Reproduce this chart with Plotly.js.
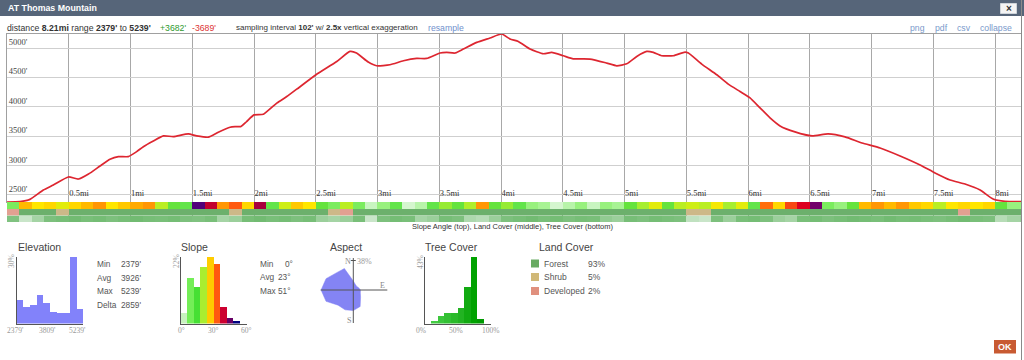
<!DOCTYPE html>
<html><head><meta charset="utf-8">
<script src="https://cdn.plot.ly/plotly-3.0.1.min.js"></script>
<style>html,body{margin:0;padding:0;background:#fff;overflow:hidden}#chart{width:1024px;height:360px}</style>
</head><body><div id="chart"></div>
<script>
// ---------- data ----------
const profileDist = [0, 0.105, 0.186, 0.294, 0.375, 0.497, 0.578, 0.66, 0.753, 0.834, 0.902, 0.982, 1.05, 1.104, 1.185, 1.266, 1.347, 1.468, 1.536, 1.63, 1.711, 1.806, 1.846, 1.892, 1.94, 2.0, 2.076, 2.184, 2.265, 2.346, 2.502, 2.67, 2.777, 2.83, 2.925, 2.993, 3.1, 3.21, 3.317, 3.398, 3.506, 3.56, 3.627, 3.695, 3.803, 3.911, 4.005, 4.073, 4.14, 4.235, 4.343, 4.41, 4.504, 4.585, 4.72, 4.856, 4.937, 5.018, 5.099, 5.18, 5.233, 5.3, 5.395, 5.49, 5.517, 5.625, 5.747, 5.84, 5.935, 6.016, 6.097, 6.178, 6.259, 6.38, 6.518, 6.648, 6.785, 6.923, 7.069, 7.231, 7.393, 7.514, 7.636, 7.757, 7.879, 7.984, 8.08, 8.21];
const profileElev = [2379, 2385, 2424, 2583, 2668, 2805, 2770, 2855, 2992, 3106, 3151, 3151, 3236, 3321, 3418, 3504, 3492, 3538, 3504, 3482, 3567, 3652, 3663, 3663, 3748, 3862, 3874, 4062, 4174, 4300, 4545, 4771, 4942, 4915, 4761, 4698, 4715, 4783, 4823, 4823, 4915, 4925, 4915, 4983, 5096, 5171, 5239, 5154, 5113, 4983, 4903, 4925, 4869, 4817, 4812, 4744, 4698, 4732, 4857, 4942, 4925, 4869, 4869, 4932, 4915, 4727, 4545, 4386, 4260, 4152, 3981, 3811, 3674, 3572, 3504, 3538, 3487, 3384, 3299, 3163, 3009, 2873, 2753, 2685, 2583, 2430, 2390, 2386];

const distTickVals = [0.5, 1, 1.5, 2, 2.5, 3, 3.5, 4, 4.5, 5, 5.5, 6, 6.5, 7, 7.5, 8];
const distTickText = ['0.5mi','1mi','1.5mi','2mi','2.5mi','3mi','3.5mi','4mi','4.5mi','5mi','5.5mi','6mi','6.5mi','7mi','7.5mi','8mi'];
const elevTickVals = [2500, 3000, 3500, 4000, 4500, 5000];
const elevTickText = ["2500'", "3000'", "3500'", "4000'", "4500'", "5000'"];

// strips, one cell per 0.1 mi
const slopeStrip = [8,28,25,26,22,26,28,30,25,27, 29,30,18,12,10,48,40,30,33,26, 42,10,20,27,25,12,8,18,8,3, 6,10,2,4,10,15,12,17,30,12, 15,10,6,5,2,4,6,3,6,5, 12,16,22,12,18,20,18,24,16,22, 10,32,26,34,38,46,8,6,12,28, 30,28,30,27,26,18,25,26,25,26, 12,6,6];
const landStrip = [2,0,0,0,1,0,0,0,0,0, 0,0,0,0,0,0,0,0,1,0, 0,0,0,0,0,0,1,2,0,0, 0,0,0,0,0,0,0,0,0,0, 0,0,0,0,0,0,0,0,0,0, 0,0,0,0,0,1,1,0,0,0, 0,0,0,0,0,0,0,0,0,0, 0,0,0,0,0,0,0,2,0,0, 0,0,0];
const treeStrip = [70,30,50,72,75,78,74,76,72,75, 78,75,74,76,72,70,74,50,55,75, 78,74,76,72,75,55,50,55,74,30, 72,76,74,50,55,75,72,45,40,55, 72,75,78,74,76,72,75,74,60,55, 75,72,76,74,72,35,30,72,55,74, 76,72,55,50,74,76,72,75,78,76, 74,78,75,76,74,72,75,78,74,72, 40,50,55];

// histograms
const elevHistBins = [0,1,2,3,4,5,6,7,8,9];
const elevHistPct = [10.5, 7.2, 8.1, 12.7, 9.3, 5.2, 4.5, 4.5, 30, 6.7];
const slopeHistBins = [3, 9, 15, 21, 27, 33, 39, 45, 51];
const slopeHistPct = [3.5, 14.9, 11.9, 18.7, 22, 19.5, 5.3, 1.7, 0.8];
const slopeHistColors = ['#c8f2c0','#74ee58','#46e034','#aaee30','#ffcc00','#ff5a10','#cc0030','#660066','#000080'];
const treeHistBins = [5,15,25,35,45,55,65,75,85,95];
const treeHistPct = [0, 1.7, 4.7, 6.5, 6.9, 9.7, 23.2, 43, 2.6, 0];
const treeHistColors = ['#55d055','#44cc44','#3cc63c','#33c033','#2aba2a','#22b322','#11aa11','#00a200','#009a00','#009000'];
const aspectDirs = [0,22.5,45,67.5,90,112.5,135,157.5,180,202.5,225,247.5,270,292.5,315,337.5];
const aspectPct = [10, 6.5, 5.5, 6.5, 8, 8.5, 11.5, 20, 23, 24, 24, 33, 36, 33, 27, 26];
const landNames = ['Forest','Shrub','Developed'];
const landPct = ['93%','5%','2%'];
const landColors = ['#68aa62','#d0b877','#e0907e'];

// ---------- helpers ----------
const W = 1024, H = 360;
const SANS = '"Liberation Sans", Arial, sans-serif';
const SERIF = '"Liberation Serif", "Times New Roman", serif';
const px = x => x / W, py = y => 1 - y / H;
function A(text, x, y, size, color, extra) {
  return Object.assign({text: text, x: px(x), y: py(y), xref: 'paper', yref: 'paper', showarrow: false,
    xanchor: 'left', yanchor: 'middle', borderpad: 0,
    font: {family: SANS, size: size, color: color}}, extra || {});
}
function S(text, x, y, size, color, extra) {
  return A(text, x, y, size, color, Object.assign({xanchor: 'center', font: {family: SERIF, size: size, color: color}}, extra || {}));
}
function L(x0, y0, x1, y1, color, w) {
  return {type: 'line', xref: 'paper', yref: 'paper', x0: px(x0), y0: py(y0), x1: px(x1), y1: py(y1),
    line: {color: color, width: w || 1}, layer: 'above'};
}
function R(x0, y0, x1, y1, fill, lineColor, layer) {
  return {type: 'rect', xref: 'paper', yref: 'paper', x0: px(x0), y0: py(y0), x1: px(x1), y1: py(y1),
    fillcolor: fill, line: {color: lineColor || fill, width: lineColor ? 1 : 0}, layer: layer || 'below'};
}
const slopeScale = [[0,'#eef9ee'],[3/55,'#c8f5c0'],[7/55,'#88f068'],[11/55,'#55e040'],[16/55,'#a6ee30'],
  [21/55,'#d8ee10'],[25/55,'#ffe600'],[29/55,'#ffaa00'],[33/55,'#ff5a10'],[38/55,'#dd0020'],
  [43/55,'#990044'],[47/55,'#660077'],[52/55,'#000088'],[1,'#000066']];

// ---------- traces ----------
const traces = [
  {type: 'scatter', mode: 'lines', x: profileDist, y: profileElev, xaxis: 'x', yaxis: 'y',
   line: {color: '#dd2630', width: 1.7, shape: 'spline', smoothing: 0.5}, hoverinfo: 'skip'},
  {type: 'heatmap', z: [slopeStrip], x0: 0.05, dx: 0.1, y0: 0, xaxis: 'x', yaxis: 'y2',
   colorscale: slopeScale, zmin: 0, zmax: 55, showscale: false, hoverinfo: 'skip'},
  {type: 'heatmap', z: [landStrip], x0: 0.05, dx: 0.1, y0: 0, xaxis: 'x', yaxis: 'y3',
   colorscale: [[0,'#6cb06c'],[0.333,'#6cb06c'],[0.333,'#cdb888'],[0.667,'#cdb888'],[0.667,'#e2a091'],[1,'#e2a091']],
   zmin: 0, zmax: 2, showscale: false, hoverinfo: 'skip'},
  {type: 'heatmap', z: [treeStrip], x0: 0.05, dx: 0.1, y0: 0, xaxis: 'x', yaxis: 'y4',
   colorscale: [[0,'#ffffff'],[1,'#4aa84a']], zmin: 0, zmax: 100, showscale: false, hoverinfo: 'skip'},
  {type: 'bar', x: elevHistBins, y: elevHistPct, width: 1, xaxis: 'x2', yaxis: 'y5',
   marker: {color: '#8282fa', line: {width: 0}}, hoverinfo: 'skip'},
  {type: 'bar', x: slopeHistBins, y: slopeHistPct, width: 6, xaxis: 'x3', yaxis: 'y6',
   marker: {color: slopeHistColors, line: {width: 0}}, hoverinfo: 'skip'},
  {type: 'bar', x: treeHistBins, y: treeHistPct, width: 10, xaxis: 'x4', yaxis: 'y7',
   marker: {color: treeHistColors, line: {width: 0}}, hoverinfo: 'skip'},
  {type: 'scatterpolar', r: aspectPct.concat([aspectPct[0]]), theta: aspectDirs.concat([aspectDirs[0]]),
   mode: 'lines', fill: 'toself', fillcolor: '#8484f4', line: {color: '#8484f4', width: 0.5}, hoverinfo: 'skip'}
];

const histAxis = (dom, rng, anchor) => ({domain: dom, range: rng, anchor: anchor, showline: true, linecolor: '#555',
  linewidth: 1, showgrid: false, zeroline: false, showticklabels: false, ticks: '', fixedrange: true});
const hy = [py(323.5), py(256.7)];

const layout = {
  width: W, height: H, margin: {l: 0, r: 0, t: 0, b: 0}, paper_bgcolor: '#fff', plot_bgcolor: '#fff',
  showlegend: false, bargap: 0,
  xaxis: {domain: [px(7), px(1021)], range: [0, 8.21], anchor: 'y', tickvals: distTickVals, ticktext: distTickText,
    ticklabelposition: 'inside right', ticklabeloverflow: 'allow', ticks: '', showgrid: true, gridcolor: '#a8a8a8', gridwidth: 1,
    showline: true, mirror: true, linecolor: '#a0a0a0', zeroline: false,
    tickfont: {family: SERIF, size: 8.5, color: '#333'}},
  yaxis: {domain: [py(202), py(34)], range: [2379, 5239], anchor: 'x', tickvals: elevTickVals, ticktext: elevTickText,
    ticklabelposition: 'inside top', ticklabeloverflow: 'allow', ticks: '', showgrid: true, gridcolor: '#cfcfcf', gridwidth: 1,
    showline: true, mirror: true, linecolor: '#a0a0a0', zeroline: false,
    tickfont: {family: SERIF, size: 8.5, color: '#444'}},
  yaxis2: {domain: [py(209), py(202)], range: [-0.5, 0.5], anchor: 'x', visible: false},
  yaxis3: {domain: [py(215.5), py(209)], range: [-0.5, 0.5], anchor: 'x', visible: false},
  yaxis4: {domain: [py(222), py(215.5)], range: [-0.5, 0.5], anchor: 'x', visible: false},
  xaxis2: histAxis([px(16.7), px(83.3)], [-0.5, 9.5], 'y5'),
  yaxis5: histAxis(hy, [0, 30], 'x2'),
  xaxis3: histAxis([px(180.5), px(246.7)], [0, 60], 'y6'),
  yaxis6: histAxis(hy, [0, 22], 'x3'),
  xaxis4: histAxis([px(424.5), px(490.7)], [0, 100], 'y7'),
  yaxis7: histAxis(hy, [0, 43], 'x4'),
  polar: {domain: {x: [px(319.3), px(387.3)], y: [py(324), py(256)]}, bgcolor: 'rgba(0,0,0,0)',
    angularaxis: {rotation: 90, direction: 'clockwise', visible: false},
    radialaxis: {range: [0, 38], visible: false}},
  shapes: [
    R(0, 0, 1024, 16, '#566579'),
    R(1000.5, 3.5, 1016.5, 13.5, '#f4f4f4', '#cfd4da', 'above'),
    L(1021.5, 0, 1021.5, 360, '#8a8a8a', 1),
    R(994, 340, 1016, 353.5, '#c85a32', null, 'below'),
    // aspect cross
    L(320.7, 290, 387.3, 290, '#555', 1),
    L(353.3, 258, 353.3, 323, '#555', 1),
    L(350.8, 260.5, 355.8, 260.5, '#555', 1),
    // land cover legend squares
    R(531, 259.5, 539, 267.5, landColors[0], null, 'above'),
    R(531, 273, 539, 281, landColors[1], null, 'above'),
    R(531, 287, 539, 295, landColors[2], null, 'above')
  ],
  annotations: [
    A('<b>AT Thomas Mountain</b>', 7, 8, 8.8, '#ffffff'),
    A('<b>×</b>', 1008.5, 8.5, 10, '#333', {xanchor: 'center'}),
    A("distance <b>8.21mi</b> range <b>2379'</b> to <b>5239'</b>", 6, 28, 8.7, '#333'),
    A("+3682'", 159, 28, 8.7, '#2e9a2e'),
    A("-3689'", 191, 28, 8.7, '#dd3333'),
    A("sampling interval <b>102'</b> w/ <b>2.5x</b> vertical exaggeration", 235, 28, 8.0, '#333'),
    A('resample', 427, 28, 8.7, '#7090cc'),
    A('png', 909, 28, 8.7, '#7a9acb'),
    A('pdf', 934, 28, 8.7, '#7a9acb'),
    A('csv', 956, 28, 8.7, '#7a9acb'),
    A('collapse', 979, 28, 8.7, '#7a9acb'),
    A('Slope Angle (top), Land Cover (middle), Tree Cover (bottom)', 512, 226, 7.5, '#333', {xanchor: 'center'}),
    // section titles
    A('Elevation', 16.5, 247, 10.5, '#444'),
    A('Slope', 180, 247, 10.5, '#444'),
    A('Aspect', 329, 247, 10.5, '#444'),
    A('Tree Cover', 424, 247, 10.5, '#444'),
    A('Land Cover', 538, 247, 10.5, '#444'),
    // elevation hist labels
    S('30%', 11, 261, 7.5, '#999', {textangle: -90}),
    S("2379'", 15, 330, 7.5, '#999'),
    S("3809'", 47, 330, 7.5, '#999'),
    S("5239'", 77, 330, 7.5, '#999'),
    A('Min', 96, 263.7, 8.3, '#555'), A("2379'", 141.5, 263.7, 8.3, '#555', {xanchor: 'right'}),
    A('Avg', 96, 278, 8.3, '#555'), A("3926'", 141.5, 278, 8.3, '#555', {xanchor: 'right'}),
    A('Max', 96, 291.3, 8.3, '#555'), A("5239'", 141.5, 291.3, 8.3, '#555', {xanchor: 'right'}),
    A('Delta', 96, 304.5, 8.3, '#555'), A("2859'", 141.5, 304.5, 8.3, '#555', {xanchor: 'right'}),
    // slope hist labels
    S('22%', 176, 261, 7.5, '#999', {textangle: -90}),
    S('0°', 181, 330, 7.5, '#999'),
    S('30°', 213.5, 330, 7.5, '#999'),
    S('60°', 246, 330, 7.5, '#999'),
    A('Min', 258.7, 263.7, 8.3, '#555'), A('0°', 283.5, 263.7, 8.3, '#555'),
    A('Avg', 258.7, 277, 8.3, '#555'), A('23°', 277, 277, 8.3, '#555'),
    A('Max', 258.7, 290.7, 8.3, '#555'), A('51°', 277, 290.7, 8.3, '#555'),
    // aspect labels
    S('N', 348, 261, 8, '#888'),
    S('38%', 364, 261, 8, '#999'),
    S('E', 382, 285.5, 8, '#888'),
    S('S', 348.5, 320, 8, '#888'),
    // tree cover labels
    S('43%', 420, 262, 7.5, '#999', {textangle: -90}),
    S('0%', 421, 330, 7.5, '#999'),
    S('50%', 456, 330, 7.5, '#999'),
    S('100%', 491, 330, 7.5, '#999'),
    // land cover legend
    A(landNames[0], 542.5, 263.5, 8.5, '#555'), A(landPct[0], 586.5, 263.5, 8.5, '#555'),
    A(landNames[1], 542.5, 277, 8.5, '#555'), A(landPct[1], 586.5, 277, 8.5, '#555'),
    A(landNames[2], 542.5, 291, 8.5, '#555'), A(landPct[2], 586.5, 291, 8.5, '#555'),
    // OK button
    A('<b>OK</b>', 1005, 346.8, 9, '#ffffff', {xanchor: 'center'})
  ]
};

Plotly.newPlot('chart', traces, layout, {staticPlot: true, displayModeBar: false});
</script></body></html>
